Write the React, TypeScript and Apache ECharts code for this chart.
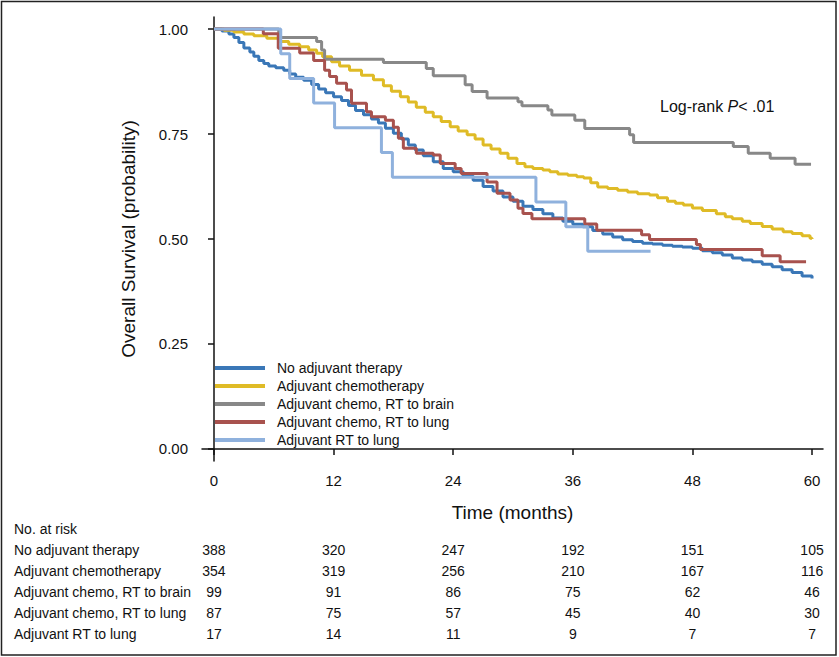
import { useEffect, useRef } from "react";
import * as echarts from "echarts";

const FONT = "'Liberation Sans', Arial, Helvetica, sans-serif";

const seriesNames = [
  "No adjuvant therapy",
  "Adjuvant chemotherapy",
  "Adjuvant chemo, RT to brain",
  "Adjuvant chemo, RT to lung",
  "Adjuvant RT to lung",
];
const seriesColors = ["#3a77b7", "#dfbb26", "#888888", "#a8524e", "#8fb1dd"];

// [month, survival probability] (Kaplan-Meier steps)
const noAdjuvant: [number, number][] = [
  [0, 1], [0.8, 0.995], [1.5, 0.988], [2.0, 0.98], [2.5, 0.968], [3.0, 0.955], [3.6, 0.945],
  [4.0, 0.935], [4.5, 0.925], [5.0, 0.918], [5.5, 0.912], [6.2, 0.908], [7.0, 0.902], [7.6, 0.893],
  [8.2, 0.885], [9.0, 0.878], [9.8, 0.868], [10.5, 0.857], [11.2, 0.848], [12.0, 0.839], [12.8, 0.83],
  [13.5, 0.818], [14.2, 0.806], [15.0, 0.796], [15.8, 0.786], [16.5, 0.776], [17.2, 0.764], [18.0, 0.752],
  [18.8, 0.738], [19.5, 0.724], [20.2, 0.712], [21.0, 0.698], [22.0, 0.684], [23.0, 0.668], [24.0, 0.66],
  [25.0, 0.65], [26.0, 0.64], [27.0, 0.625], [28.0, 0.614], [29.0, 0.6], [30.0, 0.59], [31.0, 0.578],
  [32.0, 0.57], [33.0, 0.56], [34.0, 0.55], [35.0, 0.542], [36.0, 0.535], [37.0, 0.529], [38.0, 0.52],
  [39.0, 0.512], [40.0, 0.505], [41.0, 0.498], [42.0, 0.494], [43.0, 0.49], [44.0, 0.488], [45.0, 0.485],
  [46.0, 0.483], [47.0, 0.481], [48.0, 0.478], [49.0, 0.472], [50.0, 0.467], [51.0, 0.462], [52.0, 0.455],
  [53.0, 0.45], [54.0, 0.446], [55.0, 0.44], [56.0, 0.434], [57.0, 0.427], [58.0, 0.42], [59.0, 0.412],
  [60.0, 0.406],
];
const chemo: [number, number][] = [
  [0, 1], [1.0, 0.997], [2.0, 0.993], [3.0, 0.988], [4.0, 0.984], [5.3, 0.978], [6.5, 0.97], [7.5, 0.964],
  [8.6, 0.958], [9.5, 0.95], [10.3, 0.942], [10.9, 0.934], [11.8, 0.922], [12.6, 0.912], [13.6, 0.902],
  [14.8, 0.89], [16.0, 0.879], [17.0, 0.865], [17.8, 0.852], [18.7, 0.839], [19.5, 0.826], [20.3, 0.814],
  [21.2, 0.802], [22.0, 0.791], [22.8, 0.78], [23.7, 0.767], [24.5, 0.757], [25.4, 0.748], [26.2, 0.738],
  [27.0, 0.724], [27.8, 0.714], [28.7, 0.704], [29.5, 0.692], [30.4, 0.68], [31.2, 0.672], [32.0, 0.668],
  [33.0, 0.664], [33.7, 0.66], [34.5, 0.655], [35.5, 0.652], [36.4, 0.648], [37.1, 0.645], [37.8, 0.634],
  [38.5, 0.624], [39.5, 0.62], [40.5, 0.616], [41.5, 0.612], [42.5, 0.608], [43.7, 0.605], [44.5, 0.598],
  [45.5, 0.59], [46.3, 0.585], [47.1, 0.581], [48.0, 0.574], [49.0, 0.568], [50.4, 0.56], [51.3, 0.553],
  [52.0, 0.548], [53.0, 0.542], [53.8, 0.537], [55.0, 0.53], [56.0, 0.524], [57.1, 0.517], [58.0, 0.513],
  [59.0, 0.508], [59.8, 0.502], [60.0, 0.5],
];
const chemoBrain: [number, number][] = [
  [0, 1], [6.5, 0.98], [10.3, 0.97], [10.8, 0.95], [11.1, 0.928], [17.0, 0.92], [21.3, 0.906], [22.0, 0.889],
  [25.2, 0.867], [25.9, 0.851], [27.4, 0.836], [30.5, 0.827], [30.9, 0.817], [33.5, 0.807], [33.9, 0.795],
  [36.2, 0.783], [37.2, 0.763], [41.7, 0.748], [42.1, 0.73], [52.1, 0.72], [53.6, 0.704], [55.8, 0.692],
  [58.3, 0.678], [59.9, 0.678],
];
const chemoLung: [number, number][] = [
  [0, 1], [4.95, 0.989], [6.45, 0.954], [8.6, 0.943], [10.0, 0.925], [11.1, 0.902], [11.6, 0.887],
  [12.3, 0.871], [13.3, 0.855], [13.8, 0.823], [15.3, 0.803], [15.8, 0.791], [17.2, 0.783], [18.0, 0.766],
  [18.5, 0.74], [19.0, 0.716], [20.3, 0.704], [22.0, 0.7], [22.7, 0.68], [24.2, 0.668], [24.8, 0.656],
  [27.4, 0.636], [28.4, 0.609], [29.7, 0.593], [30.5, 0.573], [31.0, 0.561], [31.9, 0.548], [37.2, 0.536],
  [38.4, 0.521], [42.9, 0.51], [43.7, 0.499], [48.4, 0.487], [48.8, 0.475], [55.0, 0.46], [56.8, 0.446],
  [59.4, 0.446],
];
const rtLung: [number, number][] = [
  [0, 1], [6.7, 0.941], [7.6, 0.882], [10.0, 0.824], [12.1, 0.765], [16.8, 0.706], [17.9, 0.647],
  [32.3, 0.588], [35.3, 0.529], [37.5, 0.471], [43.8, 0.471],
];
const seriesData = [noAdjuvant, chemo, chemoBrain, chemoLung, rtLung];

const xTicks = [0, 12, 24, 36, 48, 60];
const yTicks = [0, 0.25, 0.5, 0.75, 1];

const riskTitle = "No. at risk";
const riskLabels = seriesNames;
const riskNoAdjuvant = [388, 320, 247, 192, 151, 105];
const riskChemo = [354, 319, 256, 210, 167, 116];
const riskChemoBrain = [99, 91, 86, 75, 62, 46];
const riskChemoLung = [87, 75, 57, 45, 40, 30];
const riskRtLung = [17, 14, 11, 9, 7, 7];
const riskRows = [riskNoAdjuvant, riskChemo, riskChemoBrain, riskChemoLung, riskRtLung];

export default function App() {
  const ref = useRef<HTMLDivElement>(null);
  useEffect(() => {
    const chart = echarts.init(ref.current!, null, { renderer: "svg" });
    const axisLine = { show: true, lineStyle: { color: "#111", width: 1.5 } };
    chart.setOption({
      animation: false,
      backgroundColor: "#ffffff",
      grid: { left: 202, right: 16, top: 17, bottom: 196, containLabel: false },
      xAxis: {
        type: "value",
        min: -1.2,
        max: 61.1,
        name: "Time (months)",
        nameLocation: "middle",
        nameGap: 42,
        nameTextStyle: { fontFamily: FONT, fontSize: 19, color: "#111" },
        axisLine,
        splitLine: { show: false },
        axisTick: { show: true, length: 6, customValues: xTicks, lineStyle: { color: "#111", width: 1.5 } },
        axisLabel: {
          customValues: xTicks,
          margin: 12,
          fontFamily: FONT,
          fontSize: 15,
          color: "#111",
        },
      },
      yAxis: {
        type: "value",
        min: -0.0286,
        max: 1.0286,
        name: "Overall Survival (probability)",
        nameLocation: "middle",
        nameGap: 64,
        nameTextStyle: { fontFamily: FONT, fontSize: 19, color: "#111" },
        axisLine,
        splitLine: { show: false },
        axisTick: { show: true, length: 6, customValues: yTicks, lineStyle: { color: "#111", width: 1.5 } },
        axisLabel: {
          customValues: yTicks,
          margin: 14,
          fontFamily: FONT,
          fontSize: 15,
          color: "#111",
          formatter: (v: number) => v.toFixed(2),
        },
      },
      legend: {
        orient: "vertical",
        left: 215,
        top: 360,
        padding: 0,
        itemGap: 2,
        itemWidth: 50,
        itemHeight: 4,
        icon: "rect",
        data: seriesNames,
        selectedMode: false,
        textStyle: { fontFamily: FONT, fontSize: 14, color: "#111", lineHeight: 16, padding: [0, 0, 0, 7] },
      },
      series: seriesNames.map((name, i) => ({
        name,
        type: "line",
        step: "end",
        data: seriesData[i],
        showSymbol: false,
        symbol: "none",
        silent: true,
        color: seriesColors[i],
        lineStyle: { color: seriesColors[i], width: 3 },
      })),
    });

    const elements: any[] = [];
    elements.push({
      type: "rect",
      shape: { x: 1.5, y: 1.5, width: 834.5, height: 653.5 },
      style: { fill: "none", stroke: "#222", lineWidth: 1.5 },
      silent: true,
    });
    elements.push({
      type: "text",
      x: 660,
      y: 106,
      style: {
        text: "Log-rank {i|P}< .01",
        fontFamily: FONT,
        fontSize: 16,
        fill: "#111",
        verticalAlign: "middle",
        rich: { i: { fontStyle: "italic", fontFamily: FONT, fontSize: 16, fill: "#111" } },
      },
    });
    const rowY0 = 529;
    const rowGap = 21;
    elements.push({
      type: "text",
      x: 14,
      y: rowY0,
      style: { text: riskTitle, fontFamily: FONT, fontSize: 14, fill: "#111", verticalAlign: "middle" },
    });
    riskRows.forEach((row, r) => {
      const y = rowY0 + rowGap * (r + 1);
      elements.push({
        type: "text",
        x: 14,
        y,
        style: { text: riskLabels[r], fontFamily: FONT, fontSize: 14, fill: "#111", verticalAlign: "middle" },
      });
      row.forEach((v, c) => {
        const px = chart.convertToPixel({ xAxisIndex: 0 }, xTicks[c]) as number;
        elements.push({
          type: "text",
          x: px,
          y,
          style: {
            text: String(v),
            fontFamily: FONT,
            fontSize: 14,
            fill: "#111",
            align: "center",
            verticalAlign: "middle",
          },
        });
      });
    });
    chart.setOption({ graphic: elements });
    return () => chart.dispose();
  }, []);
  return (
    <div
      ref={ref}
      style={{ position: "fixed", left: 0, top: 0, width: 839, height: 657, background: "#fff" }}
    />
  );
}
